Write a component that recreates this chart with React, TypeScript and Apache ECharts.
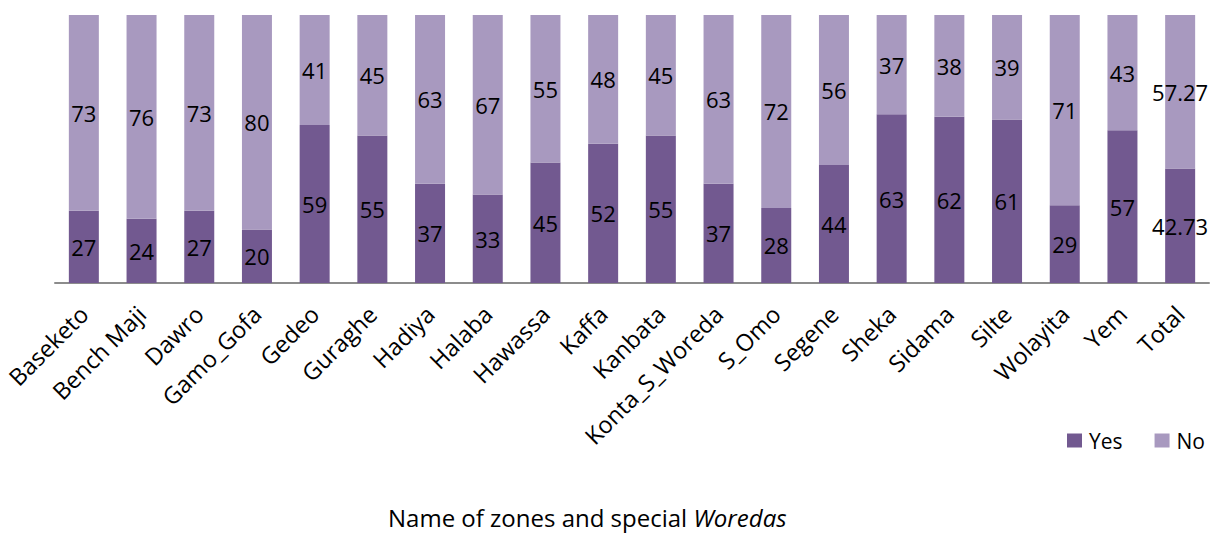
import React, { useEffect, useRef } from "react";
import * as echarts from "echarts";

const categories = ["Baseketo", "Bench Maji", "Dawro", "Gamo_Gofa", "Gedeo", "Guraghe", "Hadiya", "Halaba", "Hawassa", "Kaffa", "Kanbata", "Konta_S_Woreda", "S_Omo", "Segene", "Sheka", "Sidama", "Silte", "Wolayita", "Yem", "Total"];
const yesValues = [27, 24, 27, 20, 59, 55, 37, 33, 45, 52, 55, 37, 28, 44, 63, 62, 61, 29, 57, 42.73];
const noValues = [73, 76, 73, 80, 41, 45, 63, 67, 55, 48, 45, 63, 72, 56, 37, 38, 39, 71, 43, 57.27];

const FONT = "'Open Sans', 'Noto Sans', sans-serif";

export default function App() {
  const ref = useRef<HTMLDivElement>(null);
  useEffect(() => {
    if (!ref.current) return;
    const chart = echarts.init(ref.current, null, { renderer: "svg" });
    const label = {
      show: true,
      position: "inside" as const,
      color: "#000",
      fontFamily: FONT,
      fontSize: 22,
    };
    chart.setOption({
      animation: false,
      textStyle: { fontFamily: FONT },
      grid: { left: 55, right: 2, top: 15, bottom: 251, containLabel: false, outerBoundsMode: "none" },
      legend: {
        right: 1,
        top: 425,
        itemWidth: 15,
        itemHeight: 14,
        itemGap: 32,
        icon: "rect",
        textStyle: { fontSize: 21, color: "#000", fontFamily: FONT, padding: [0, 0, 0, 2] },
        data: ["Yes", "No"],
      },
      xAxis: {
        type: "category",
        data: categories,
        axisLine: { lineStyle: { color: "#8c8c8c", width: 2 } },
        axisTick: { show: false },
        axisLabel: {
          rotate: 45,
          interval: 0,
          margin: 27,
          color: "#000",
          fontSize: 23.5,
          fontFamily: FONT,
        },
      },
      yAxis: {
        type: "value",
        min: 0,
        max: 100,
        show: false,
      },
      graphic: [
        {
          type: "text",
          left: 388,
          top: 505,
          style: {
            text: "{a|Name of zones and special }{b|Woredas}",
            fill: "#000",
            rich: {
              a: { fontSize: 24, fill: "#000", fontFamily: FONT },
              b: { fontSize: 24, fill: "#000", fontFamily: FONT, fontStyle: "italic" },
            },
          },
        },
      ],
      series: [
        {
          name: "Yes",
          type: "bar",
          stack: "s",
          data: yesValues,
          barWidth: 30,
          itemStyle: { color: "#725990" },
          label,
        },
        {
          name: "No",
          type: "bar",
          stack: "s",
          data: noValues,
          barWidth: 30,
          itemStyle: { color: "#A899BF" },
          label,
        },
      ],
    });
    return () => chart.dispose();
  }, []);
  return <div ref={ref} style={{ width: 1211, height: 534, position: "absolute", left: 0, top: 0 }} />;
}
